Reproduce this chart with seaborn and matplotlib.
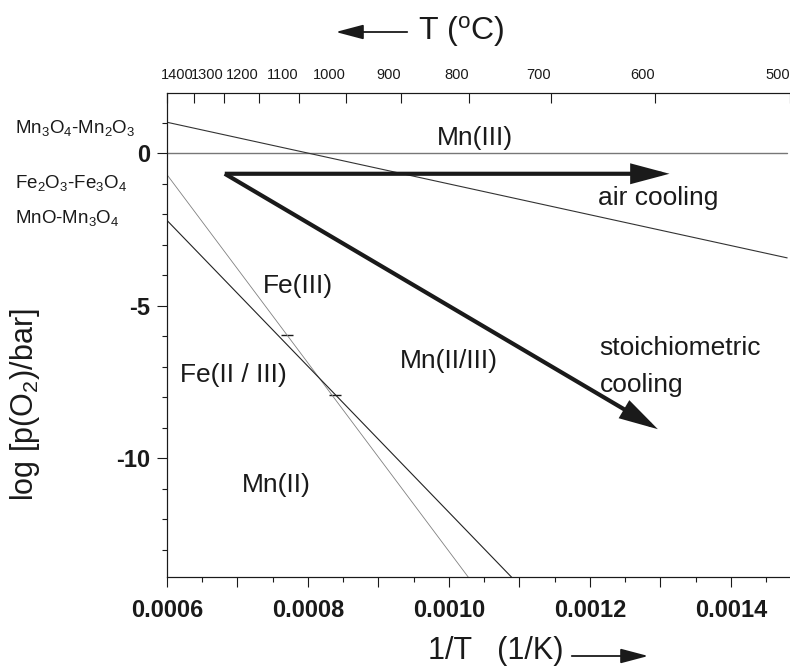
import numpy as np
import pandas as pd
import matplotlib
matplotlib.use("Agg")
import matplotlib.pyplot as plt
import seaborn as sns
from matplotlib.ticker import MultipleLocator, FuncFormatter
from matplotlib.transforms import blended_transform_factory

# ---------------- data ----------------
# phase boundaries: log p(O2) vs 1/T
inv_T_mn3o4 = [0.00060, 0.00148]
logp_mn3o4 = [1.02, -3.43]          # Mn3O4-Mn2O3

inv_T_fe = [0.00060, 0.00105]
logp_fe = [-0.70, -14.60]           # Fe2O3-Fe3O4

inv_T_mno = [0.00060, 0.00112]
logp_mno = [-2.20, -14.65]          # MnO-Mn3O4

inv_T_ref = [0.00060, 0.00148]
logp_ref = [0.0, 0.0]               # log p(O2) = 0

mark_inv_T = [0.000770, 0.000838]
mark_logp = [-5.96, -7.93]

# cooling paths
cool_start = (0.000682, -0.67)
air_end = (0.001313, -0.67)
stoich_end = (0.0012965, -9.05)

# region labels: text, x, y (baseline)
region_text = ["Mn(III)", "Fe(III)", "Fe(II / III)", "Mn(II/III)", "Mn(II)", "air cooling",
               "stoichiometric", "cooling"]
region_x = [0.000983, 0.000736, 0.000618, 0.000930, 0.000706, 0.001211, 0.001214, 0.001214]
region_y = [0.28, -4.57, -7.49, -7.03, -11.10, -1.69, -6.61, -7.82]

# boundary names at the left
boundary_text = [r"Mn$_3$O$_4$-Mn$_2$O$_3$", r"Fe$_2$O$_3$-Fe$_3$O$_4$", r"MnO-Mn$_3$O$_4$"]
boundary_y = [0.67, -1.13, -2.28]

# top axis (temperature in deg C)
top_T_C = [1400, 1300, 1200, 1100, 1000, 900, 800, 700, 600, 500, 400]
top_labels = ["", "1400", "1300", "1200", "1100", "1000", "900", "800", "700", "600", "500"]

# ---------------- style ----------------
sns.set_theme(style="ticks")
plt.rcParams["font.family"] = ["Liberation Sans", "DejaVu Sans"]
plt.rcParams["mathtext.fontset"] = "custom"
plt.rcParams["mathtext.rm"] = "Liberation Sans"
plt.rcParams["mathtext.it"] = "Liberation Sans:italic"
plt.rcParams["mathtext.bf"] = "Liberation Sans:bold"
plt.rcParams["mathtext.default"] = "regular"
plt.rcParams["axes.unicode_minus"] = False

W, H = 790, 670
fig = plt.figure(figsize=(W / 100, H / 100), dpi=100)
ax = fig.add_axes([167 / W, (H - 577) / H, 623 / W, (577 - 93) / H])

sns.lineplot(x=inv_T_ref, y=logp_ref, ax=ax, color="#777777", lw=1.0)
sns.lineplot(x=inv_T_mn3o4, y=logp_mn3o4, ax=ax, color="#333333", lw=0.8)
sns.lineplot(x=inv_T_fe, y=logp_fe, ax=ax, color="#808080", lw=0.6)
sns.lineplot(x=inv_T_mno, y=logp_mno, ax=ax, color="#222222", lw=0.8)
sns.scatterplot(x=mark_inv_T, y=mark_logp, ax=ax, marker="_", s=70, color="k", linewidth=1.0)

ax.set_xlim(0.00060, 0.001484)
ax.set_ylim(-13.9, 1.98)

arrow_kw = dict(arrowstyle="-|>,head_length=1.05,head_width=0.28", lw=3, color="k",
                mutation_scale=20, shrinkA=0, shrinkB=0, joinstyle="miter", capstyle="butt")
ax.annotate("", xy=air_end, xytext=cool_start, arrowprops=arrow_kw)
ax.annotate("", xy=stoich_end, xytext=cool_start, arrowprops=arrow_kw)

for t, x, y in zip(region_text, region_x, region_y):
    ax.text(x, y, t, fontsize=19, ha="left", va="baseline", color="k")

btrans = blended_transform_factory(ax.transAxes, ax.transData)
for t, y in zip(boundary_text, boundary_y):
    ax.text(-0.244, y, t, transform=btrans, fontsize=13.5, ha="left", va="baseline",
            clip_on=False, color="k")

# bottom axis ticks
ax.xaxis.set_major_locator(MultipleLocator(0.0001))
ax.xaxis.set_minor_locator(MultipleLocator(0.00005))
ax.xaxis.set_major_formatter(FuncFormatter(
    lambda v, p: f"{v:.4f}" if abs(round(v / 0.0002) * 0.0002 - v) < 1e-9 else ""))
ax.yaxis.set_major_locator(MultipleLocator(5))
ax.yaxis.set_minor_locator(MultipleLocator(1))
ax.yaxis.set_major_formatter(FuncFormatter(lambda v, p: f"{v:.0f}"))
ax.tick_params(axis="x", which="major", direction="out", length=7, width=0.8,
               labelsize=17, pad=9, colors="k")
ax.tick_params(axis="x", which="minor", direction="out", length=3.6, width=0.8, colors="k")
ax.tick_params(axis="y", which="major", direction="out", length=7, width=0.8,
               labelsize=17, pad=5, colors="k")
ax.tick_params(axis="y", which="minor", direction="out", length=3.5, width=0.8, colors="k")
for lbl in ax.get_xticklabels() + ax.get_yticklabels():
    lbl.set_fontweight("bold")

for s in ["left", "bottom", "top"]:
    ax.spines[s].set_color("k")
    ax.spines[s].set_linewidth(0.8)
ax.spines["right"].set_visible(False)

ax.set_ylabel(r"log [p(O$_2$)/bar]", fontsize=22, color="k")
ax.yaxis.set_label_coords(-0.2006, 0.357)

# top temperature axis
ax2 = ax.twiny()
ax2.set_xlim(ax.get_xlim())
ax2.set_xticks(1.0 / (np.array(top_T_C) + 273.15))
ax2.set_xticklabels(top_labels)
ax2.tick_params(axis="x", direction="in", length=7, width=0.8, labelsize=10.5, pad=8,
                colors="k")
for lbl in ax2.get_xticklabels():
    lbl.set_ha("right")
ax2.spines["right"].set_visible(False)
for s in ["left", "bottom", "top"]:
    ax2.spines[s].set_color("k")
    ax2.spines[s].set_linewidth(0.8)

# axis titles with arrows
fig.text(418 / W, 1 - 32 / H, r"T ($^{o}$C)", fontsize=23, ha="left", va="center", color="k")
fig.add_artist(matplotlib.patches.FancyArrowPatch(
    (410 / W, 1 - 32 / H), (333 / W, 1 - 32 / H), transform=fig.transFigure,
    arrowstyle="-|>,head_length=1.7,head_width=0.45", mutation_scale=10, lw=1.3, color="k"))

fig.text(428 / W, 1 - 651 / H, "1/T   (1/K)", fontsize=22, ha="left", va="center", color="k")
fig.add_artist(matplotlib.patches.FancyArrowPatch(
    (569 / W, 1 - 656 / H), (651 / W, 1 - 656 / H), transform=fig.transFigure,
    arrowstyle="-|>,head_length=1.7,head_width=0.45", mutation_scale=10, lw=1.3, color="k"))

fig.savefig("out.png", dpi=100)
